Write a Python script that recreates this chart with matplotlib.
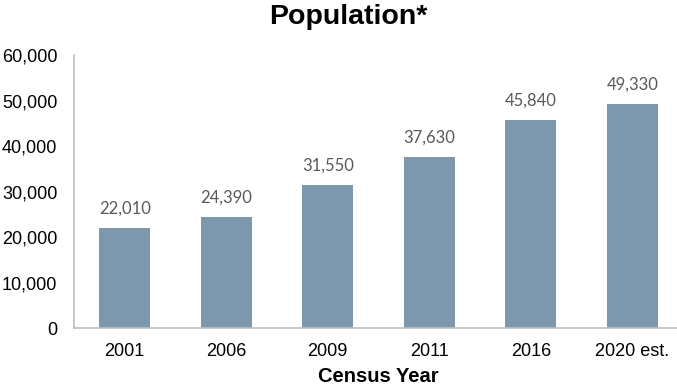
import matplotlib
matplotlib.use("Agg")
import matplotlib.pyplot as plt
from matplotlib.ticker import FuncFormatter

years = ["2001", "2006", "2009", "2011", "2016", "2020 est."]
population = [22010, 24390, 31550, 37630, 45840, 49330]
y_ticks = [0, 10000, 20000, 30000, 40000, 50000, 60000]

fig = plt.figure(figsize=(6.77, 3.88), dpi=100)
ax = fig.add_axes([0.1093, 0.1546, 0.8996, 0.7034])

bar_color = "#7d98ad"
ax.bar(range(len(years)), population, width=0.5, color=bar_color, zorder=2)

for x, v in enumerate(population):
    ax.annotate(f"{v:,}", (x, v), xytext=(0, 8), textcoords="offset points",
                ha="center", va="bottom", fontsize=12, color="#595959",
                family="Lato")

ax.set_xlim(-0.5, 5.5)
ax.set_ylim(0, 60000)
ax.set_yticks(y_ticks)
ax.yaxis.set_major_formatter(FuncFormatter(lambda v, p: f"{int(v):,}"))
ax.set_xticks(range(len(years)))
ax.set_xticklabels(years)

for side in ("top", "right"):
    ax.spines[side].set_visible(False)
for side in ("left", "bottom"):
    ax.spines[side].set_color("#bfbfbf")
    ax.spines[side].set_linewidth(1.2)
ax.tick_params(axis="both", length=0, labelsize=13, colors="#000000")
ax.tick_params(axis="y", pad=12)
ax.tick_params(axis="x", pad=11)
for lbl in ax.get_xticklabels() + ax.get_yticklabels():
    lbl.set_family("Liberation Sans")

ax.set_xlabel("Census Year", fontsize=14.5, fontweight="bold",
              family="Liberation Sans", labelpad=5)
fig.text(0.514, 0.955, "Population*", ha="center", va="center",
         fontsize=20.5, fontweight="bold", family="Liberation Sans")

fig.savefig("out.png", dpi=100)
